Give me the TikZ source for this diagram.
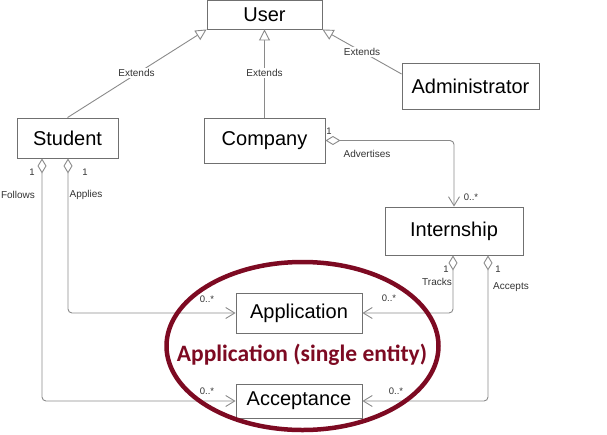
\documentclass[tikz,border=0pt]{standalone}
\usepackage{fontspec}
\setmainfont{Liberation Sans}
\newfontfamily\carlito{Carlito}
\usetikzlibrary{arrows.meta,calc}
\definecolor{linegray}{HTML}{8A8A8A}
\definecolor{boxgray}{HTML}{707070}
\definecolor{labgray}{HTML}{333333}
\definecolor{maroon}{HTML}{7D0A22}
\tikzset{
  cls/.style={draw=boxgray, line width=0.9pt, fill=white, rectangle, inner sep=0pt, font=\fontsize{20}{24}\selectfont, text=black},
  conn/.style={draw=linegray, line width=0.9pt},
  gen/.style={conn, -{Triangle[open, length=11pt, width=11pt, fill=white]}},
  agg/.style={conn, rounded corners=4pt, {Diamond[open, length=15pt, width=9pt, fill=white]}-{Straight Barb[length=9pt, width=11pt]}},
  lab/.style={font=\fontsize{10}{12}\selectfont, text=labgray, inner sep=0pt},
  mult/.style={font=\fontsize{9.5}{11}\selectfont, text=labgray, inner sep=0pt},
}
\begin{document}
\begin{tikzpicture}[x=1pt,y=-1pt]
\useasboundingbox (0,0) rectangle (607,434);
% classes
\node[cls, minimum width=115pt, minimum height=29pt] (user) at (264.5,14.5) {User};
\node[cls, minimum width=101pt, minimum height=40pt] (student) at (67.5,138) {Student};
\node[cls, minimum width=121pt, minimum height=45pt] (company) at (264.5,140.5) {Company};
\node[cls, minimum width=137pt, minimum height=46pt] (admin) at (470.5,86) {Administrator};
\node[cls, minimum width=138pt, minimum height=48pt] (intern) at (454,231) {Internship};
\node[cls, minimum width=126pt, minimum height=40pt] (appl) at (299,313) {Application};
\node[cls, minimum width=126pt, minimum height=34pt] (accept) at (299,401) {Acceptance};
% generalizations
\draw[gen] (student.north) -- (user.south west);
\draw[gen] (company.north) -- (user.south);
\draw[gen] ($(admin.west)+(0,-12)$) -- (user.south east);
\node[lab, fill=white, inner sep=1pt] (l1) at (136.5,73) {Extends};
\node[lab, fill=white, inner sep=1pt] (l2) at (264.5,73) {Extends};
\node[lab, fill=white, inner sep=1pt] (l3) at (362,52) {Extends};
% associations
\draw[agg] (company.east) -| (intern.north);
\draw[agg] ($(student.south)+(-25.5,0)$) |- (accept.west);
\draw[agg] ($(student.south)+(0.5,0)$) |- (appl.west);
\draw[agg] ($(intern.south)+(-1,0)$) |- (appl.east);
\draw[agg] ($(intern.south)+(34,0)$) |- (accept.east);
% association labels
\node[mult] (m1) at (329,131) {1};
\node[lab] (a1) at (367,154) {Advertises};
\node[mult] (m2) at (471,197) {0..*};
\node[mult] (m3) at (32,172) {1};
\node[lab] (a2) at (18,195) {Follows};
\node[mult] (m4) at (85,172) {1};
\node[lab] (a3) at (86,195) {Applies};
\node[mult] (m5) at (207,299) {0..*};
\node[mult] (m6) at (207,391) {0..*};
\node[mult] (m7) at (446,269) {1};
\node[lab] (a4) at (437,282) {Tracks};
\node[mult] (m8) at (389,298) {0..*};
\node[mult] (m9) at (498,269) {1};
\node[lab] (a5) at (511,287) {Accepts};
\node[mult] (m10) at (396,391) {0..*};
% highlight
\draw[draw=maroon, line width=4.5pt] (302.5,346) ellipse [x radius=136, y radius=84];
\node[font=\carlito\bfseries\fontsize{23.5}{28}\selectfont, text=maroon, inner sep=0pt] (note) at (302,355) {Application (single entity)};
\end{tikzpicture}
\end{document}
